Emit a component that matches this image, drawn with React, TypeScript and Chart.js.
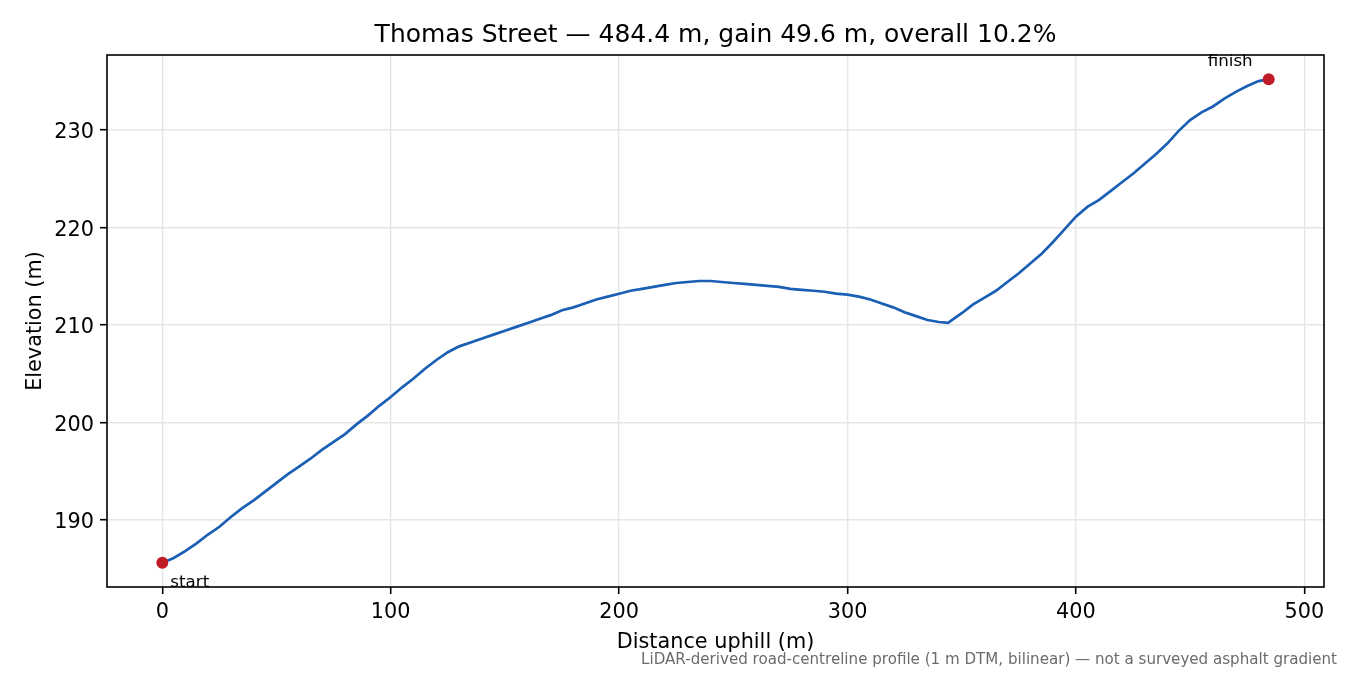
import { useEffect, useRef } from 'react';
import { Chart, registerables } from 'chart.js';

Chart.register(...registerables);

// distance along the street (m) and elevation (m)
const DISTANCE = [
  0, 5, 10, 15, 20, 25, 30, 35, 40, 45, 50, 55, 60, 65, 70, 75, 80, 85, 90, 95,
  100, 105, 110, 115, 120, 125, 130, 135, 140, 145, 150, 155, 160, 165, 170, 175, 180, 185, 190, 195,
  200, 205, 210, 215, 220, 225, 230, 235, 240, 245, 250, 255, 260, 265, 270, 275, 280, 285, 290, 295,
  300, 305, 310, 315, 320, 325, 330, 335, 340, 344, 350, 355, 360, 365, 370, 375, 380, 385, 390, 395,
  400, 405, 410, 415, 420, 425, 430, 435, 440, 445, 450, 455, 460, 465, 470, 475, 480, 484.4,
];
const ELEVATION = [
  185.6, 186.1, 186.8, 187.6, 188.5, 189.3, 190.3, 191.2, 192.0, 192.9, 193.8, 194.7, 195.5, 196.3, 197.2, 198.0, 198.8, 199.8, 200.7, 201.7,
  202.6, 203.6, 204.5, 205.5, 206.4, 207.2, 207.8, 208.2, 208.6, 209.0, 209.4, 209.8, 210.2, 210.6, 211.0, 211.5, 211.8, 212.2, 212.6, 212.9,
  213.2, 213.5, 213.7, 213.9, 214.1, 214.3, 214.4, 214.5, 214.5, 214.4, 214.3, 214.2, 214.1, 214.0, 213.9, 213.7, 213.6, 213.5, 213.4, 213.2,
  213.1, 212.9, 212.6, 212.2, 211.8, 211.3, 210.9, 210.5, 210.3, 210.2, 211.2, 212.1, 212.8, 213.5, 214.4, 215.3, 216.3, 217.3, 218.5, 219.8,
  221.1, 222.1, 222.8, 223.7, 224.6, 225.5, 226.5, 227.5, 228.6, 229.9, 231.0, 231.8, 232.4, 233.2, 233.9, 234.5, 235.0, 235.2,
];
const END_LABELS = ['start', 'finish'];

const TITLE = 'Thomas Street — 484.4 m, gain 49.6 m, overall 10.2%';
const FOOTNOTE = 'LiDAR-derived road-centreline profile (1 m DTM, bilinear) — not a surveyed asphalt gradient';

const FONT = '"DejaVu Sans", sans-serif';
const COLORS = {
  line: '#1a5fb4',
  marker: '#c01c28',
  grid: '#e6e6e6',
  text: '#000000',
  note: '#6b6b6b',
} as const;

const frameAndText = {
  id: 'frameAndText',
  afterDatasetsDraw(chart: Chart) {
    const { ctx, chartArea } = chart;
    const xs = chart.scales.x;
    const ys = chart.scales.y;
    ctx.save();
    ctx.strokeStyle = '#000';
    ctx.lineWidth = 1.6;
    ctx.strokeRect(chartArea.left, chartArea.top, chartArea.right - chartArea.left, chartArea.bottom - chartArea.top);

    ctx.fillStyle = COLORS.text;
    ctx.font = `25px ${FONT}`;
    ctx.textAlign = 'center';
    ctx.textBaseline = 'middle';
    ctx.fillText(TITLE, (chartArea.left + chartArea.right) / 2, 35);

    ctx.font = `16.7px ${FONT}`;
    ctx.textBaseline = 'alphabetic';
    const last = DISTANCE.length - 1;
    ctx.textAlign = 'left';
    ctx.fillText(END_LABELS[0], xs.getPixelForValue(DISTANCE[0]) + 8, ys.getPixelForValue(ELEVATION[0]) + 24);
    ctx.textAlign = 'right';
    ctx.fillText(END_LABELS[1], xs.getPixelForValue(DISTANCE[last]) - 16, ys.getPixelForValue(ELEVATION[last]) - 13);

    ctx.fillStyle = COLORS.note;
    ctx.font = `15.1px ${FONT}`;
    ctx.textAlign = 'right';
    ctx.textBaseline = 'middle';
    ctx.fillText(FOOTNOTE, 1337, 660);
    ctx.restore();
  },
};

export default function App() {
  const canvasRef = useRef<HTMLCanvasElement>(null);

  useEffect(() => {
    if (!canvasRef.current) return;
    const points = DISTANCE.map((d, i) => ({ x: d, y: ELEVATION[i] }));
    const last = DISTANCE.length - 1;
    const ends = [
      { x: DISTANCE[0], y: ELEVATION[0] },
      { x: DISTANCE[last], y: ELEVATION[last] },
    ];

    const chart = new Chart(canvasRef.current, {
      type: 'line',
      data: {
        datasets: [
          {
            data: ends,
            showLine: false,
            pointRadius: 6,
            pointBackgroundColor: COLORS.marker,
            pointBorderWidth: 0,
            order: 0,
            clip: false,
          },
          {
            data: points,
            borderColor: COLORS.line,
            borderWidth: 2.7,
            pointRadius: 0,
            tension: 0,
            order: 1,
          },
        ],
      },
      options: {
        animation: false,
        responsive: true,
        maintainAspectRatio: false,
        layout: { padding: { top: 55, right: 26, left: 0, bottom: 0 } },
        plugins: {
          legend: { display: false },
          tooltip: { enabled: false },
        },
        scales: {
          x: {
            type: 'linear',
            min: -24.22,
            max: 508.62,
            afterFit: (scale) => {
              scale.height = 88;
            },
            border: { display: false },
            grid: { color: COLORS.grid, lineWidth: 1.4, tickColor: '#000', tickLength: 7, tickWidth: 1.6 },
            ticks: {
              stepSize: 100,
              includeBounds: false,
              padding: 6,
              color: COLORS.text,
              font: { family: FONT, size: 20.8 },
            },
            title: {
              display: true,
              text: 'Distance uphill (m)',
              color: COLORS.text,
              font: { family: FONT, size: 20.8 },
              padding: { top: 0, bottom: 20 },
            },
          },
          y: {
            type: 'linear',
            min: 183.12,
            max: 237.68,
            afterFit: (scale) => {
              scale.width = 107;
            },
            border: { display: false },
            grid: { color: COLORS.grid, lineWidth: 1.4, tickColor: '#000', tickLength: 7, tickWidth: 1.6 },
            ticks: {
              stepSize: 10,
              includeBounds: false,
              padding: 6,
              labelOffset: 3,
              color: COLORS.text,
              font: { family: FONT, size: 20.8 },
            },
            title: {
              display: true,
              text: 'Elevation (m)',
              color: COLORS.text,
              font: { family: FONT, size: 20.8 },
              padding: { top: 23, bottom: 0 },
            },
          },
        },
      },
      plugins: [frameAndText],
    });

    return () => chart.destroy();
  }, []);

  return (
    <div style={{ position: 'fixed', left: 0, top: 0, width: 1350, height: 675, background: '#fff' }}>
      <canvas ref={canvasRef} />
    </div>
  );
}
